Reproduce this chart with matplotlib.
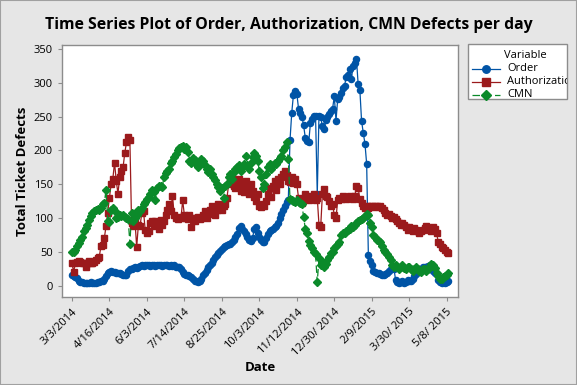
import matplotlib
matplotlib.use("Agg")
import matplotlib.pyplot as plt
from matplotlib.lines import Line2D
from matplotlib.patches import Rectangle
from matplotlib.transforms import Bbox, TransformedBbox
import numpy as np

# Tick labels every 22 observations
tick_labels = ["3/3/2014", "4/16/2014", "6/3/2014", "7/14/2014", "8/25/2014",
               "10/3/2014", "11/12/2014", "12/30/ 2014", "2/9/2015", "3/30/ 2015",
               "5/8/ 2015"]
tick_step = 22

order = [15, 14, 13, 11, 6, 5, 5, 4, 4, 4,
         4, 5, 4, 4, 4, 5, 5, 6, 7, 10,
         14, 18, 20, 21, 20, 20, 19, 18, 19, 17,
         16, 15, 16, 21, 24, 25, 26, 27, 26, 27,
         29, 30, 29, 30, 31, 30, 29, 31, 30, 29,
         30, 31, 30, 29, 30, 31, 30, 29, 30, 29,
         30, 28, 28, 27, 25, 20, 17, 15, 15, 14,
         13, 9, 7, 6, 5, 6, 10, 15, 19, 23,
         27, 30, 34, 38, 42, 45, 48, 51, 54, 57,
         58, 60, 61, 62, 64, 68, 72, 76, 85, 88,
         84, 80, 76, 72, 68, 66, 70, 84, 86, 78,
         72, 68, 65, 64, 70, 76, 80, 82, 84, 86,
         88, 92, 100, 106, 112, 118, 124, 126, 215, 255,
         282, 288, 284, 262, 256, 250, 237, 218, 214, 212,
         241, 247, 251, 251, 135, 251, 249, 236, 232, 245,
         249, 254, 258, 262, 280, 244, 276, 279, 285, 292,
         296, 308, 311, 320, 305, 325, 330, 336, 298, 290,
         244, 226, 210, 180, 45, 36, 30, 22, 20, 19,
         18, 17, 16, 15, 17, 19, 22, 24, 26, 25,
         8, 5, 4, 5, 6, 4, 5, 8, 6, 7,
         10, 14, 17, 20, 22, 25, 27, 28, 27, 29,
         30, 25, 22, 19, 17, 8, 5, 4, 5, 4,
         5, 6]

authorization = [33, 20, 34, 35, 36, 35, 34, 33, 28, 33,
                 36, 34, 33, 35, 38, 41, 42, 58, 60, 70,
                 88, 108, 130, 150, 158, 182, 155, 136, 160, 170,
                 175, 196, 212, 220, 215, 92, 88, 95, 57, 90,
                 88, 108, 110, 82, 78, 80, 92, 96, 88, 95,
                 92, 84, 97, 90, 95, 104, 112, 120, 110, 133,
                 105, 100, 98, 102, 100, 126, 104, 100, 98, 104,
                 86, 100, 96, 100, 102, 98, 100, 104, 110, 100,
                 106, 112, 118, 108, 104, 112, 121, 115, 112, 118,
                 120, 130, 150, 160, 165, 148, 145, 150, 158, 140,
                 150, 138, 155, 145, 135, 150, 140, 131, 125, 136,
                 118, 116, 120, 117, 125, 135, 145, 131, 148, 155,
                 142, 158, 150, 160, 165, 170, 163, 155, 153, 160,
                 152, 158, 150, 130, 125, 122, 128, 135, 130, 126,
                 132, 128, 136, 126, 130, 90, 86, 135, 143, 133,
                 131, 125, 118, 120, 104, 100, 126, 130, 128, 132,
                 130, 128, 131, 133, 130, 128, 132, 148, 145, 128,
                 122, 118, 115, 118, 114, 117, 118, 116, 117, 118,
                 116, 117, 115, 112, 108, 105, 106, 103, 100, 102,
                 98, 95, 92, 90, 93, 90, 86, 82, 86, 83,
                 80, 85, 82, 80, 78, 80, 82, 85, 88, 85,
                 82, 80, 86, 84, 78, 65, 62, 57, 55, 52,
                 49, 48]

cmn = [50, 50, 52, 58, 63, 68, 72, 80, 85, 89,
       97, 103, 108, 110, 112, 113, 112, 114, 120, 122,
       142, 96, 94, 112, 114, 111, 100, 102, 104, 103,
       104, 102, 100, 98, 62, 108, 96, 100, 104, 112,
       110, 115, 120, 124, 128, 131, 136, 141, 138, 126,
       145, 147, 148, 146, 160, 166, 170, 172, 182, 185,
       190, 195, 200, 203, 205, 207, 202, 205, 198, 185,
       182, 188, 186, 180, 176, 183, 187, 185, 178, 172,
       168, 172, 165, 160, 156, 150, 146, 140, 145, 129,
       148, 150, 160, 165, 158, 168, 172, 176, 178, 170,
       175, 180, 192, 178, 172, 182, 190, 196, 192, 185,
       170, 160, 145, 150, 165, 175, 180, 172, 178, 182,
       180, 185, 188, 192, 200, 205, 212, 187, 128, 126,
       125, 124, 127, 124, 122, 120, 101, 84, 78, 66,
       60, 56, 50, 46, 5, 40, 30, 35, 28, 32,
       38, 42, 48, 50, 55, 58, 62, 65, 75, 78,
       78, 80, 82, 84, 88, 86, 90, 92, 95, 97,
       98, 100, 103, 106, 104, 92, 86, 75, 72, 68,
       66, 64, 58, 52, 50, 46, 42, 38, 30, 28,
       30, 27, 25, 28, 30, 26, 24, 28, 27, 25,
       22, 24, 27, 25, 22, 20, 24, 25, 22, 24,
       28, 32, 30, 26, 18, 14, 10, 9, 12, 14,
       16, 18]

font = ['Open Sans', 'DejaVu Sans']
plt.rcParams['font.family'] = font

blue = '#0054A6'
red = '#9B1A1C'
green = '#0B8A2A'
grey = '#8C8C8C'

fig = plt.figure(figsize=(5.77, 3.85), dpi=100, facecolor='#E6E6E6')
ax = fig.add_axes([0.107, 0.2286, 0.687, 0.6545])
ax.set_facecolor('white')

idx = np.arange(len(order))
ax.plot(idx, order, color=blue, lw=0.9, marker='o', ms=4.4, mec=blue, label='Order')
ax.plot(idx, authorization, color=red, lw=0.9, marker='s', ms=4.5, mec=red, label='Authorization')
ax.plot(idx, cmn, color=green, lw=0.9, ls=(0, (6, 3)), marker='D', ms=4.2, mec=green, label='CMN')

ax.set_xlim(-6, 226.7)
ax.set_ylim(-17, 356)
ax.set_yticks(range(0, 351, 50))
ax.set_xticks(np.arange(len(tick_labels)) * tick_step)
ax.set_xticklabels(tick_labels, rotation=45, ha='right', rotation_mode='anchor')

for s in ax.spines.values():
    s.set_color(grey)
    s.set_linewidth(1.0)
ax.tick_params(colors=grey, labelcolor='black', labelsize=8, length=3, width=0.8)

fig.text(0.5, 1 - 25 / 385, 'Time Series Plot of Order, Authorization, CMN Defects per day',
         fontsize=11.3, fontweight='bold', ha='center', va='center')
ax.set_ylabel('Total Ticket Defects', fontsize=9.5, fontweight='bold', labelpad=3)
ax.set_xlabel('Date', fontsize=9.5, fontweight='bold', labelpad=2)

# Legend box (Minitab style, text clipped by the box)
bx0, by0, bx1, by1 = 468 / 577, 1 - 99 / 385, 567 / 577, 1 - 44 / 385
box = Rectangle((bx0, by0), bx1 - bx0, by1 - by0, transform=fig.transFigure,
                facecolor='white', edgecolor=grey, lw=1.0)
fig.patches.append(box)
clip = TransformedBbox(Bbox.from_extents(bx0, by0, bx1, by1), fig.transFigure)
fig.text(525 / 577, 1 - 55 / 385, 'Variable', fontsize=8, ha='center', va='center')
handles = [('Order', blue, 'o', '-', 4.4, 68.5),
           ('Authorization', red, 's', '-', 4.5, 81.5),
           ('CMN', green, 'D', (0, (6, 3)), 4.2, 94.5)]
for name, col, mk, ls, ms, yy in handles:
    yf = 1 - yy / 385
    fig.add_artist(Line2D([472 / 577, 500 / 577], [yf, yf], transform=fig.transFigure,
                          color=col, lw=0.9, ls=ls))
    fig.add_artist(Line2D([486 / 577], [yf], transform=fig.transFigure, color=col,
                          marker=mk, ms=ms + 1, mec=col, ls='none'))
    t = fig.text(507 / 577, yf, name, fontsize=8, ha='left', va='center')
    t.set_clip_box(clip)
    t.set_clip_on(True)

fig.patches.append(Rectangle((0, 0), 1, 1, transform=fig.transFigure, fill=False,
                             edgecolor='#A0A0A0', lw=1.5))

fig.savefig('out.png', dpi=100, facecolor=fig.get_facecolor())
